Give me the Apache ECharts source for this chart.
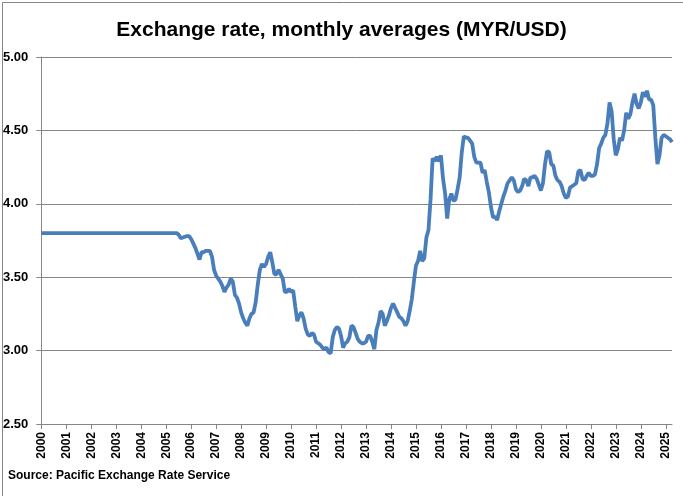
<!DOCTYPE html>
<html>
<head>
    <meta charset="utf-8">
    <title>Exchange rate MYR/USD</title>
    <script src="https://cdn.jsdelivr.net/npm/echarts@6/dist/echarts.min.js"></script>
</head>
<body style="margin:0">
<div id="main" style="width:683px;height:496px;"></div>
<script type="text/javascript">
    // monthly averages, MYR per USD, one array per year
    var y2000 = [3.80, 3.80, 3.80, 3.80, 3.80, 3.80, 3.80, 3.80, 3.80, 3.80, 3.80, 3.80];
    var y2001 = [3.80, 3.80, 3.80, 3.80, 3.80, 3.80, 3.80, 3.80, 3.80, 3.80, 3.80, 3.80];
    var y2002 = [3.80, 3.80, 3.80, 3.80, 3.80, 3.80, 3.80, 3.80, 3.80, 3.80, 3.80, 3.80];
    var y2003 = [3.80, 3.80, 3.80, 3.80, 3.80, 3.80, 3.80, 3.80, 3.80, 3.80, 3.80, 3.80];
    var y2004 = [3.80, 3.80, 3.80, 3.80, 3.80, 3.80, 3.80, 3.80, 3.80, 3.80, 3.80, 3.80];
    var y2005 = [3.80, 3.80, 3.80, 3.80, 3.80, 3.80, 3.79, 3.765, 3.77, 3.775, 3.78, 3.78];
    var y2006 = [3.76, 3.73, 3.70, 3.66, 3.62, 3.67, 3.67, 3.68, 3.68, 3.68, 3.64, 3.55];
    var y2007 = [3.51, 3.49, 3.47, 3.44, 3.40, 3.43, 3.45, 3.49, 3.47, 3.38, 3.36, 3.32];
    var y2008 = [3.26, 3.22, 3.19, 3.17, 3.22, 3.25, 3.26, 3.33, 3.45, 3.55, 3.59, 3.57];
    var y2009 = [3.59, 3.64, 3.67, 3.60, 3.52, 3.52, 3.55, 3.52, 3.49, 3.40, 3.40, 3.42];
    var y2010 = [3.40, 3.41, 3.30, 3.20, 3.24, 3.26, 3.22, 3.15, 3.11, 3.10, 3.12, 3.11];
    var y2011 = [3.06, 3.05, 3.04, 3.02, 3.01, 3.02, 2.99, 2.98, 3.09, 3.14, 3.16, 3.15];
    var y2012 = [3.10, 3.02, 3.05, 3.06, 3.09, 3.17, 3.16, 3.12, 3.08, 3.06, 3.05, 3.05];
    var y2013 = [3.06, 3.10, 3.10, 3.06, 3.01, 3.14, 3.19, 3.27, 3.25, 3.17, 3.20, 3.24];
    var y2014 = [3.29, 3.32, 3.29, 3.26, 3.23, 3.22, 3.20, 3.17, 3.20, 3.27, 3.35, 3.47];
    var y2015 = [3.58, 3.61, 3.68, 3.61, 3.63, 3.77, 3.82, 4.03, 4.31, 4.29, 4.32, 4.29];
    var y2016 = [4.33, 4.17, 4.07, 3.90, 4.03, 4.07, 4.02, 4.03, 4.10, 4.18, 4.35, 4.46];
    var y2017 = [4.45, 4.45, 4.43, 4.41, 4.32, 4.28, 4.28, 4.28, 4.21, 4.23, 4.15, 4.08];
    var y2018 = [3.98, 3.91, 3.91, 3.89, 3.95, 4.00, 4.05, 4.09, 4.14, 4.16, 4.18, 4.16];
    var y2019 = [4.10, 4.08, 4.09, 4.12, 4.17, 4.16, 4.12, 4.18, 4.18, 4.19, 4.17, 4.13];
    var y2020 = [4.09, 4.14, 4.27, 4.36, 4.35, 4.27, 4.26, 4.19, 4.16, 4.15, 4.12, 4.07];
    var y2021 = [4.04, 4.05, 4.11, 4.12, 4.13, 4.14, 4.22, 4.23, 4.17, 4.16, 4.19, 4.21];
    var y2022 = [4.19, 4.19, 4.20, 4.27, 4.38, 4.41, 4.45, 4.47, 4.55, 4.69, 4.63, 4.44];
    var y2023 = [4.33, 4.37, 4.45, 4.43, 4.50, 4.62, 4.58, 4.61, 4.69, 4.75, 4.68, 4.65];
    var y2024 = [4.69, 4.76, 4.73, 4.77, 4.71, 4.71, 4.67, 4.45, 4.27, 4.33, 4.45, 4.47];
    var y2025 = [4.46, 4.45, 4.44, 4.42];

    var years = [2000, 2001, 2002, 2003, 2004, 2005, 2006, 2007, 2008, 2009, 2010, 2011, 2012,
        2013, 2014, 2015, 2016, 2017, 2018, 2019, 2020, 2021, 2022, 2023, 2024, 2025];
    var yearData = [y2000, y2001, y2002, y2003, y2004, y2005, y2006, y2007, y2008, y2009, y2010,
        y2011, y2012, y2013, y2014, y2015, y2016, y2017, y2018, y2019, y2020, y2021, y2022,
        y2023, y2024, y2025];

    // flatten into month categories "YYYY-MM"
    var months = [];
    var rates = [];
    for (var i = 0; i < years.length; i++) {
        for (var m = 0; m < yearData[i].length; m++) {
            months.push(years[i] + '-' + (m < 9 ? '0' : '') + (m + 1));
            rates.push(yearData[i][m]);
        }
    }

    var isJan = function (idx, val) { return val.slice(5) === '01'; };
    var font = '"Liberation Sans", Arial, sans-serif';
    var gray = '#868686';

    var myChart = echarts.init(document.getElementById('main'));

    var option = {
        backgroundColor: '#fff',
        animation: false,
        title: {
            text: 'Exchange rate, monthly averages (MYR/USD)',
            left: 'center',
            top: 15,
            textStyle: {
                fontFamily: font,
                fontWeight: 'bold',
                fontSize: 21,
                color: '#000'
            }
        },
        graphic: [{
            type: 'rect',
            left: 0, top: 0,
            shape: { x: 0.5, y: 0.5, width: 682, height: 495 },
            style: { fill: 'none', stroke: gray, lineWidth: 1 },
            silent: true
        }, {
            type: 'text',
            left: 8,
            top: 470,
            style: {
                text: 'Source: Pacific Exchange Rate Service',
                font: 'bold 12px ' + font,
                fill: '#000'
            }
        }],
        grid: {
            left: 41,
            right: 11,
            top: 57,
            bottom: 72,
            containLabel: false
        },
        xAxis: {
            type: 'category',
            data: months,
            boundaryGap: false,
            axisLine: { lineStyle: { color: gray, width: 1 } },
            axisTick: { show: true, interval: isJan, length: 5, lineStyle: { color: gray } },
            axisLabel: {
                interval: isJan,
                rotate: 90,
                margin: 8,
                formatter: function (v) { return v.slice(0, 4); },
                fontFamily: font,
                fontWeight: 'bold',
                fontSize: 12,
                color: '#000'
            },
            splitLine: { show: false }
        },
        yAxis: {
            type: 'value',
            min: 2.5,
            max: 5,
            interval: 0.5,
            axisLine: { show: true, lineStyle: { color: gray, width: 1 } },
            axisTick: { show: true, length: 5, lineStyle: { color: gray } },
            axisLabel: {
                formatter: function (v) { return v.toFixed(2); },
                margin: 13,
                fontFamily: font,
                fontWeight: 'bold',
                fontSize: 13,
                color: '#000'
            },
            splitLine: { lineStyle: { color: gray, width: 1 } }
        },
        series: [{
            type: 'line',
            data: rates,
            showSymbol: false,
            lineStyle: { color: '#4A7EBB', width: 3.8 },
            itemStyle: { color: '#4A7EBB' }
        }]
    };

    myChart.setOption(option);
</script>
</body>
</html>
